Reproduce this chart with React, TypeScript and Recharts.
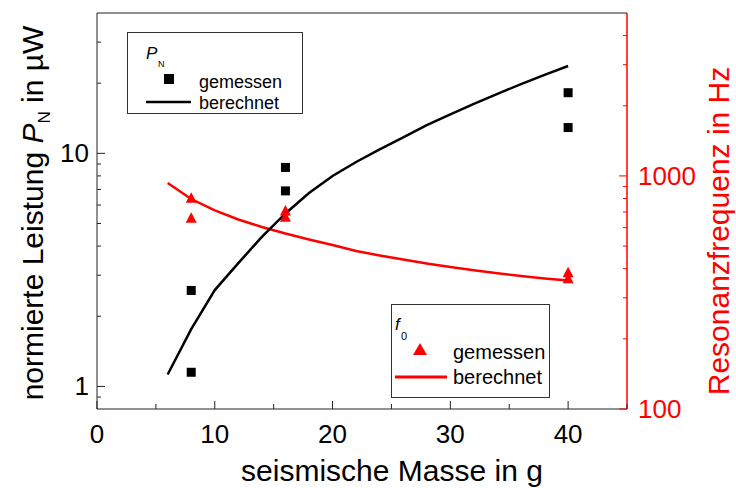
import { ComposedChart, Line, Scatter, XAxis, YAxis } from 'recharts'

const FONT = 'Arial, "Liberation Sans", Helvetica, sans-serif'
const RED = '#ff0000'
const AXIS = '#222'

// berechnete Kurven
const massCalc = [6, 8, 10, 12, 14, 16, 18, 20, 22, 24, 26, 28, 30, 32, 34, 36, 38, 40]
const powerCalc = [1.125, 1.76, 2.59, 3.38, 4.38, 5.52, 6.76, 7.99, 9.18, 10.4, 11.7, 13.2, 14.7, 16.3, 18.0, 19.8, 21.7, 23.7]
const freqCalc = [932, 796, 711, 650, 604, 566, 534, 505, 476, 456, 438, 421, 407, 394, 382, 372, 363, 356]

// Messwerte
const massMeas = [8, 8, 16, 16, 40, 40]
const powerMeas = [2.58, 1.15, 8.7, 6.9, 18.2, 12.9]
const freqMeas = [802, 658, 707, 665, 384, 362]

// Achsen
const massTicks = [0, 5, 10, 15, 20, 25, 30, 35, 40, 45]
const massLabels = [0, 10, 20, 30, 40]
const powerTicks = [0.9, 1, 2, 3, 4, 5, 6, 7, 8, 9, 10, 20, 30]
const powerLabels = [1, 10]
const freqTicks = [100, 200, 300, 400, 500, 600, 700, 800, 900, 1000, 2000, 3000, 4000]
const freqLabels = [100, 1000]

const powerLine = massCalc.map((m, i) => ({ m, p: powerCalc[i] }))
const freqLine = massCalc.map((m, i) => ({ m, f: freqCalc[i] }))
const powerPts = massMeas.map((m, i) => ({ m, p: powerMeas[i] }))
const freqPts = massMeas.map((m, i) => ({ m, f: freqMeas[i] }))

function BottomTick({ x, y, payload }: any) {
  const lab = massLabels.includes(payload.value)
  return (
    <g>
      <line x1={x} x2={x} y1={y} y2={y - (lab ? 8 : 5)} stroke={AXIS} />
      {lab && (
        <text x={x} y={y + 34} textAnchor="middle" fontSize={26} fontFamily={FONT} fill="#000">
          {payload.value}
        </text>
      )}
    </g>
  )
}

function TopTick({ x, y, payload }: any) {
  const major = payload.value % 10 === 0
  return <line x1={x} x2={x} y1={y} y2={y + (major ? 7 : 4)} stroke={AXIS} />
}

function PowerTick({ x, y, payload }: any) {
  const lab = powerLabels.includes(payload.value)
  return (
    <g>
      <line x1={x} x2={x + (lab ? 8 : 4)} y1={y} y2={y} stroke={AXIS} />
      {lab && (
        <text x={x - 8} y={y + 9} textAnchor="end" fontSize={26} fontFamily={FONT} fill="#000">
          {payload.value}
        </text>
      )}
    </g>
  )
}

function FreqTick({ x, y, payload }: any) {
  const lab = freqLabels.includes(payload.value)
  return (
    <g>
      <line x1={x} x2={x - (lab ? 8 : 4)} y1={y} y2={y} stroke={RED} />
      {lab && (
        <text x={x + 11} y={y + 9} textAnchor="start" fontSize={26} fontFamily={FONT} fill={RED}>
          {payload.value}
        </text>
      )}
    </g>
  )
}

function XTitle({ viewBox }: any) {
  const { x, y, width } = viewBox
  return (
    <text x={x + width / 2 + 30} y={y + 72} textAnchor="middle" fontSize={30} fontFamily={FONT} fill="#000">
      seismische Masse in g
    </text>
  )
}

function PowerTitle({ viewBox }: any) {
  const cx = viewBox.x + 43
  const cy = viewBox.y + viewBox.height / 2 + 2
  return (
    <text x={cx} y={cy} transform={`rotate(-90, ${cx}, ${cy})`} textAnchor="middle" fontSize={30} fontFamily={FONT} fill="#000">
      normierte Leistung <tspan fontStyle="italic">P</tspan>
      <tspan fontSize={17} dy={7}>N</tspan>
      <tspan dy={-7}> in µW</tspan>
    </text>
  )
}

function FreqTitle({ viewBox }: any) {
  const cx = viewBox.x + 102
  const cy = viewBox.y + viewBox.height / 2 + 20
  return (
    <text x={cx} y={cy} transform={`rotate(-90, ${cx}, ${cy})`} textAnchor="middle" fontSize={30} fontFamily={FONT} fill={RED}>
      Resonanzfrequenz in Hz
    </text>
  )
}

const Square = ({ cx, cy }: any) => <rect x={cx - 4.5} y={cy - 4.5} width={9} height={9} fill="#000" />
const Triangle = ({ cx, cy }: any) => (
  <polygon points={`${cx},${cy - 6} ${cx - 5.5},${cy + 4.5} ${cx + 5.5},${cy + 4.5}`} fill={RED} />
)

const legendBox = { position: 'absolute' as const, border: '1px solid #333', background: '#fff', boxSizing: 'border-box' as const }

export default function App() {
  return (
    <div style={{ position: 'absolute', left: 0, top: 0, width: 736, height: 488, background: '#fff', fontFamily: FONT }}>
      <ComposedChart width={736} height={488} margin={{ top: 0, right: 0, bottom: 0, left: 0 }}>
        <XAxis
          xAxisId="b"
          dataKey="m"
          type="number"
          domain={[0, 45]}
          allowDataOverflow
          ticks={massTicks}
          interval={0}
          height={79}
          tickSize={0}
          tickMargin={0}
          tickLine={false}
          tick={<BottomTick />}
          axisLine={{ stroke: AXIS }}
          label={<XTitle />}
        />
        <XAxis
          xAxisId="t"
          orientation="top"
          type="number"
          domain={[0, 45]}
          allowDataOverflow
          ticks={massTicks}
          interval={0}
          height={13}
          tickSize={0}
          tickMargin={0}
          tickLine={false}
          tick={<TopTick />}
          axisLine={{ stroke: AXIS }}
        />
        <YAxis
          yAxisId="p"
          dataKey="p"
          scale="log"
          domain={[0.8, 40]}
          allowDataOverflow
          ticks={powerTicks}
          interval={0}
          width={97}
          tickSize={0}
          tickMargin={0}
          tickLine={false}
          tick={<PowerTick />}
          axisLine={{ stroke: AXIS }}
          label={<PowerTitle />}
        />
        <YAxis
          yAxisId="f"
          dataKey="f"
          orientation="right"
          scale="log"
          domain={[100, 5000]}
          allowDataOverflow
          ticks={freqTicks}
          interval={0}
          width={109}
          tickSize={0}
          tickMargin={0}
          tickLine={false}
          tick={<FreqTick />}
          axisLine={{ stroke: RED, strokeWidth: 1.5 }}
          label={<FreqTitle />}
        />
        <Line xAxisId="b" yAxisId="f" data={freqLine} dataKey="f" type="linear" stroke={RED} strokeWidth={2.5} dot={false} isAnimationActive={false} />
        <Line xAxisId="b" yAxisId="p" data={powerLine} dataKey="p" type="linear" stroke="#000" strokeWidth={2.5} dot={false} isAnimationActive={false} />
        <Scatter xAxisId="b" yAxisId="p" data={powerPts} dataKey="p" shape={<Square />} isAnimationActive={false} />
        <Scatter xAxisId="b" yAxisId="f" data={freqPts} dataKey="f" shape={<Triangle />} isAnimationActive={false} />
      </ComposedChart>

      <div style={{ ...legendBox, left: 127, top: 32, width: 176, height: 82 }}>
        <svg width={176} height={82} style={{ display: 'block' }}>
          <text x={18} y={26} fontSize={17} fontStyle="italic" fontFamily={FONT}>P</text>
          <text x={30} y={34} fontSize={9} fontFamily={FONT}>N</text>
          <rect x={36} y={41} width={10} height={10} fill="#000" />
          <text x={71} y={55} fontSize={18} fontFamily={FONT}>gemessen</text>
          <line x1={18} x2={63} y1={69} y2={69} stroke="#000" strokeWidth={2.5} />
          <text x={71} y={76} fontSize={18} fontFamily={FONT}>berechnet</text>
        </svg>
      </div>

      <div style={{ ...legendBox, left: 391, top: 304, width: 159, height: 94 }}>
        <svg width={159} height={94} style={{ display: 'block' }}>
          <text x={3} y={25} fontSize={17} fontStyle="italic" fontFamily={FONT}>f</text>
          <text x={9} y={35} fontSize={11} fontFamily={FONT}>0</text>
          <polygon points="28,38 21,50 35,50" fill={RED} />
          <text x={61} y={54} fontSize={20} fontFamily={FONT}>gemessen</text>
          <line x1={3} x2={55} y1={72} y2={72} stroke={RED} strokeWidth={3} />
          <text x={61} y={79} fontSize={20} fontFamily={FONT}>berechnet</text>
        </svg>
      </div>
    </div>
  )
}
